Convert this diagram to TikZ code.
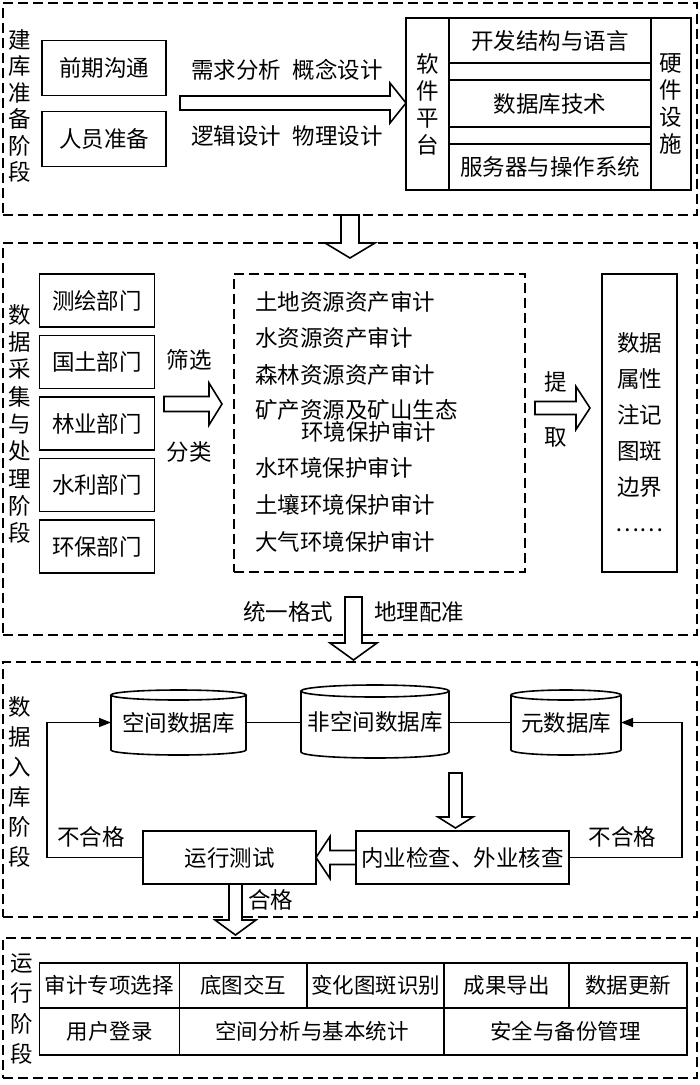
\documentclass[tikz,border=0pt]{standalone}
\usepackage{fontspec}
\setmainfont{Noto Sans CJK SC}
\usetikzlibrary{positioning,calc,arrows.meta}

\tikzset{
  panel/.style={draw, line width=1.6pt, dash pattern=on 10pt off 5pt, inner sep=0pt, outer sep=0pt},
  box/.style={draw, line width=1.6pt, inner sep=0pt, outer sep=0pt},
  dept/.style={box, minimum width=115pt, minimum height=53pt},
  cell/.style={box, minimum height=45pt, font=\fontsize{21.5}{24}\selectfont},
  vlabel/.style={align=center, inner sep=0pt, font=\fontsize{22.5}{27}\selectfont},
  item/.style={anchor=west, inner sep=0pt},
  hollow/.style={draw, line width=1.6pt, fill=white},
  back/.style={line width=1.6pt, -{Triangle[length=12pt,width=9pt]}},
  dbnode/.style={inner sep=0pt, outer sep=0pt},
}

% hollow block arrows
\newcommand\blockh[5]{%
  \draw[hollow] let \p1=#1, \p2=#2 in
    (\x1,{\y1+#3pt}) -- ({\x2-(#5pt)},{\y1+#3pt}) -- ({\x2-(#5pt)},{\y1+#4pt}) -- (\x2,\y1)
    -- ({\x2-(#5pt)},{\y1-#4pt}) -- ({\x2-(#5pt)},{\y1-#3pt}) -- (\x1,{\y1-#3pt}) -- cycle;}
\newcommand\blockv[5]{%
  \draw[hollow] let \p1=#1, \p2=#2 in
    ({\x1-#3pt},\y1) -- ({\x1-#3pt},{\y2+#5pt}) -- ({\x1-#4pt},{\y2+#5pt}) -- (\x1,\y2)
    -- ({\x1+#4pt},{\y2+#5pt}) -- ({\x1+#3pt},{\y2+#5pt}) -- ({\x1+#3pt},\y1) -- cycle;}
% database drum round a node
\newcommand\dbshape[3]{%
  \draw[line width=1.6pt] (#1.north west) -- (#1.south west)
    arc[start angle=180, end angle=360, x radius=#2pt, y radius=#3pt] -- (#1.north east)
    (#1.north) ellipse [x radius=#2pt, y radius=#3pt];}

\begin{document}
\begin{tikzpicture}[x=1pt,y=-1pt,font=\fontsize{22.5}{26}\selectfont]
    \useasboundingbox (0,0) rectangle (700,1085);

    % stages
    \node [panel, minimum width=694pt, minimum height=212pt] (p1) at (350,109) {};
    \node [panel, minimum width=694pt, minimum height=392pt] (p2) at (350,439) {};
    \node [panel, minimum width=694pt, minimum height=255pt] (p3) at (350,789.5) {};
    \node [panel, minimum width=694pt, minimum height=140pt] (p4) at (350,1008) {};

    % stage 1
    \node [vlabel, font=\fontsize{22.5}{26.5}\selectfont] (s1) at (20,106) {建\\库\\准\\备\\阶\\段};
    \node [box, minimum width=124pt, minimum height=55pt] (talk) at (104,68) {前期沟通};
    \node [box, minimum width=124pt, minimum height=55pt] (staff) at (104,139) {人员准备};
    \node (design1) at (287,70) {需求分析\hspace{0.5em}概念设计};
    \node (design2) at (287,136) {逻辑设计\hspace{0.5em}物理设计};
    \node [box, vlabel, minimum width=43pt, minimum height=172pt] (soft) at (427.5,104) {软\\件\\平\\台};
    \node [box, minimum width=202pt, minimum height=45pt] (lang) at (550,40.5) {开发结构与语言};
    \node [box, minimum width=202pt, minimum height=47pt] (dbtech) at (550,103.5) {数据库技术};
    \node [box, minimum width=202pt, minimum height=46pt] (server) at (550,167) {服务器与操作系统};
    \node [box, vlabel, minimum width=40pt, minimum height=172pt] (hard) at (671,104) {硬\\件\\设\\施};
    \blockh{(180,103)}{(soft.west)}{7}{20}{16}
    \blockv{(p1.south)}{($(p2.north)+(0,15)$)}{9}{25}{15}

    % stage 2
    \node [vlabel, font=\fontsize{22.5}{27.3}\selectfont] (s2) at (20,424) {数\\据\\采\\集\\与\\处\\理\\阶\\段};
    \node [dept] (dep1) at (97,300.5) {测绘部门};
    \node [dept, below=8.5pt of dep1] (dep2) {国土部门};
    \node [dept, below=8.5pt of dep2] (dep3) {林业部门};
    \node [dept, below=8.5pt of dep3] (dep4) {水利部门};
    \node [dept, below=8.5pt of dep4] (dep5) {环保部门};
    \node (sel) at (189,360) {筛选};
    \node (cls) at (189,452) {分类};
    \node [panel, minimum width=291pt, minimum height=298pt] (audit) at (379.5,423) {};
    \node [item] (a1) at (255,302) {土地资源资产审计};
    \node [item] (a2) at (255,338) {水资源资产审计};
    \node [item] (a3) at (255,375) {森林资源资产审计};
    \node [item, align=left, font=\fontsize{22.5}{22}\selectfont] (a4) at (255,421) {矿产资源及矿山生态\\\hspace*{2.05em}环境保护审计};
    \node [item] (a5) at (255,468) {水环境保护审计};
    \node [item] (a6) at (255,505) {土壤环境保护审计};
    \node [item] (a7) at (255,542) {大气环境保护审计};
    \node (ext1) at (556,382) {提};
    \node (ext2) at (556,437) {取};
    \node [box, minimum width=75pt, minimum height=298pt] (attr) at (639.5,423) {};
    \node [vlabel, font=\fontsize{22.5}{36}\selectfont] (attrtxt) at (639.5,432) {数据\\属性\\注记\\图斑\\边界\\……};
    \coordinate (selA) at (164,404);
    \coordinate (selB) at (222,404);
    \blockh{(selA)}{(selB)}{7.5}{21}{13}
    \coordinate (extA) at (535,408);
    \coordinate (extB) at (590,408);
    \blockh{(extA)}{(extB)}{6.5}{21.5}{14}
    \node (unify) at (288,612) {统一格式};
    \node (geo) at (419,612) {地理配准};
    \coordinate (down2) at (353.5,597);
    \blockv{(down2)}{($(p3.north)+(0,-2)$)}{8.5}{23.5}{17}

    % stage 3
    \node [vlabel, font=\fontsize{22.5}{30}\selectfont] (s3) at (20,782) {数\\据\\入\\库\\阶\\段};
    \node [dbnode, minimum width=135pt, minimum height=55pt] (sdb) at (178.5,722.5) {空间数据库};
    \node [dbnode, minimum width=148pt, minimum height=61pt] (ndb) at (375,721.5) {非空间数据库};
    \node [dbnode, minimum width=110pt, minimum height=55pt] (mdb) at (566,722.5) {元数据库};
    \dbshape{sdb}{67.5}{5}
    \dbshape{ndb}{74}{6}
    \dbshape{mdb}{55}{5}
    \draw [line width=1.6pt] (sdb.east) -- (sdb.east -| ndb.west);
    \draw [line width=1.6pt] (ndb.east |- mdb.west) -- (mdb.west);
    \node [box, minimum width=173pt, minimum height=53pt] (test) at (229.5,857.5) {运行测试};
    \node [box, minimum width=213pt, minimum height=53pt] (check) at (462.5,857.5) {内业检查、外业核查};
    \coordinate (down3) at (455.5,773);
    \blockv{(down3)}{($(check.north)+(-7,-3)$)}{6.5}{17.5}{11}
    \blockh{(check.west)}{(test.east)}{7}{21}{-14}
    \draw [back] (test.west) -- ++(-96,0) |- (sdb.west);
    \draw [back] (check.east) -- ++(113,0) |- (mdb.east);
    \node (fail1) at (91,837) {不合格};
    \node (fail2) at (622.5,837) {不合格};
    \node (pass) at (270.5,900) {合格};
    \blockv{($(test.south)+(6,0)$)}{($(p4.north)+(0,-3)$)}{6.5}{20.5}{15}

    % stage 4
    \node [vlabel, font=\fontsize{22.5}{30.6}\selectfont] (s4) at (22,1009) {运\\行\\阶\\段};
    \node [cell, minimum width=140pt] (t1) at (109.5,985.5) {审计专项选择};
    \node [cell, minimum width=127.5pt, right=0pt of t1] (t2) {底图交互};
    \node [cell, minimum width=137pt, right=0pt of t2] (t3) {变化图斑识别};
    \node [cell, minimum width=125pt, right=0pt of t3] (t4) {成果导出};
    \node [cell, minimum width=118pt, right=0pt of t4] (t5) {数据更新};
    \node [cell, minimum width=140pt, minimum height=47pt, below=0pt of t1] (b1) {用户登录};
    \node [cell, minimum width=264.5pt, minimum height=47pt, right=0pt of b1] (b2) {空间分析与基本统计};
    \node [cell, minimum width=243pt, minimum height=47pt, right=0pt of b2] (b3) {安全与备份管理};
\end{tikzpicture}
\end{document}
